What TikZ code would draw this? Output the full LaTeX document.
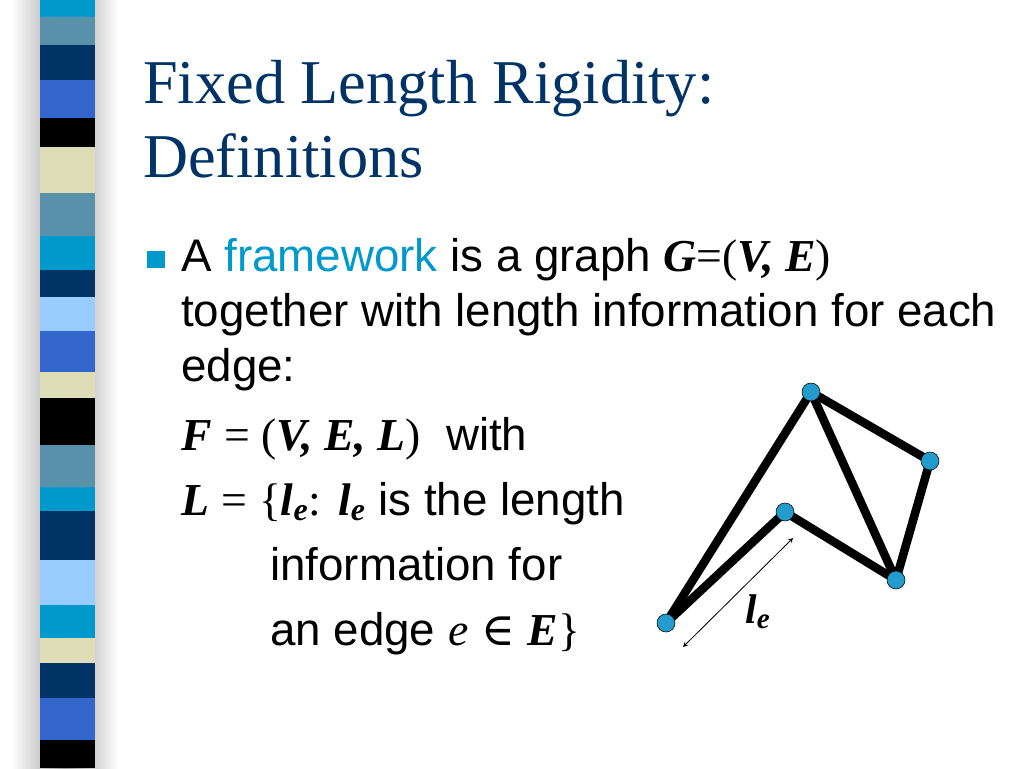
\documentclass[tikz,border=0pt]{standalone}
\usepackage{fontspec}
\setmainfont{Liberation Sans}
\newfontfamily\tnr{Liberation Serif}
\newfontfamily\djs{DejaVu Serif}
\usetikzlibrary{arrows, positioning, backgrounds}

\definecolor{titlecol}{RGB}{0,51,102}
\definecolor{fwcol}{RGB}{0,153,204}
\definecolor{vertexcol}{RGB}{35,155,205}
\definecolor{sCyan}{RGB}{0,153,204}
\definecolor{sSteel}{RGB}{90,145,170}
\definecolor{sNavy}{RGB}{0,51,102}
\definecolor{sRoyal}{RGB}{51,102,204}
\definecolor{sBlack}{RGB}{0,0,0}
\definecolor{sBeige}{RGB}{221,221,184}
\definecolor{sLight}{RGB}{153,204,255}

\newcommand{\bi}[1]{{\tnr\bfseries\itshape #1}}
\newcommand{\tmr}[1]{{\tnr #1}}

\begin{document}
\begin{tikzpicture}[x=0.01in,y=-0.01in,
 title/.style={anchor=base west,inner sep=0,align=left,text=titlecol,
   font=\tnr\fontsize{45}{53.3}\selectfont},
 body/.style={anchor=base west,inner sep=0,font=\fontsize{33}{40}\selectfont},
 vertex/.style={circle,draw=black,thin,fill=vertexcol,minimum size=0.18in,inner sep=0},
 rod/.style={line width=0.085in}]

  \useasboundingbox (0,0) rectangle (1024,768);

  % side bar
  \shade[left color=white,right color=white,middle color=gray!80] (12,0) rectangle (118,768);
  \foreach \a/\b/\c in {0/17/sCyan, 17/45/sSteel, 45/80/sNavy, 80/118/sRoyal,
    118/147/sBlack, 147/193/sBeige, 193/236/sSteel, 236/270/sCyan, 270/297/sNavy,
    297/331/sLight, 331/372/sRoyal, 372/398/sBeige, 398/445/sBlack, 445/487/sSteel,
    487/511/sCyan, 511/560/sNavy, 560/605/sLight, 605/638/sCyan, 638/663/sBeige,
    663/698/sNavy, 698/740/sRoyal, 740/768/sBlack} {
   \fill[\c] (40,\a) rectangle (95,\b);}

  % title (base = last line)
  \node[title] (title) at (143,177) {Fixed Length Rigidity:\\Definitions};

  % text
  \node[fill=fwcol,minimum size=0.17in,inner sep=0] (bul) at (156,259) {};
  \node[body] (l1) at (181,271) {A \textcolor{fwcol}{framework} is a graph \bi{G}\tmr{=(}\bi{V, E}\tmr{)}};
  \node[body] (l2) at (181,326) {together with length information for each};
  \node[body] (l3) at (181,381) {edge:};
  \node[body] (l4) at (181,450) {\bi{F} \tmr{= (}\bi{V, E, L}\tmr{)}\ \ with};
  \node[body] (l5) at (181,515) {\bi{L} \tmr{= \{}\bi{l\textsubscript{e}}\tmr{:} \bi{l\textsubscript{e}} is the length};
  \node[body] (l6) at (270,580) {information for};
  \node[body] (l7) at (270,645) {an edge {\tnr\itshape e} {\djs ∈} \bi{E}\tmr{\}}};

  % framework
  \node[vertex] (T) at (811,392) {};
  \node[vertex] (R) at (930,461) {};
  \node[vertex] (M) at (785,512) {};
  \node[vertex] (B) at (896,580) {};
  \node[vertex] (L) at (666,623) {};

  \begin{scope}[on background layer]
  \foreach \s/\t in {L/T, L/M, M/B, T/B, T/R, R/B} {
   \draw[rod] (\s.center) -- (\t.center);}
  \end{scope}

  \coordinate (la) at (683,647);
  \coordinate (lb) at (793,538);
  \draw[stealth-stealth,semithick] (la) -- (lb);
  \node[font=\fontsize{30}{34}\selectfont] (le) at (758,612) {\bi{l\textsubscript{e}}};

\end{tikzpicture}
\end{document}
